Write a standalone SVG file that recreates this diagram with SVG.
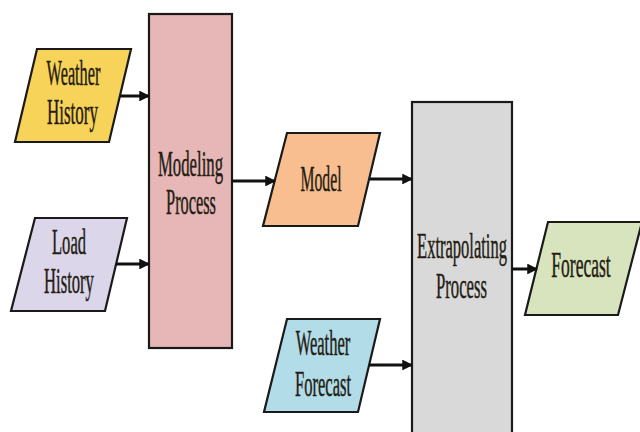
<svg xmlns="http://www.w3.org/2000/svg" width="640" height="432" viewBox="0 0 640 432">
<style>
.shape{stroke:#1a1a1a;stroke-width:2.2;stroke-linejoin:miter}
.lbl{font-family:"Liberation Serif","Times New Roman",serif;font-size:35px;fill:#241d14;stroke:#241d14;stroke-width:0.5;text-anchor:middle}
.conn{stroke:#111;stroke-width:3;fill:none}
</style>
<defs>
<marker id="ah" viewBox="0 0 10 10" refX="9" refY="5" markerWidth="3.6" markerHeight="3.6" orient="auto" markerUnits="strokeWidth">
<path d="M0,0 L10,5 L0,10 z" fill="#111"/>
</marker>
</defs>
<rect width="640" height="432" fill="#ffffff"/>
<g id="weather-history">
<polygon class="shape" points="37,49 131,49 109,142 15,142" fill="#F8D35A"/>
<text class="lbl" transform="translate(73.5,85) scale(0.465,1)">Weather</text>
<text class="lbl" transform="translate(72.5,124) scale(0.485,1)">History</text>
</g>
<g id="load-history">
<polygon class="shape" points="35,218 127,218 105,311 11,311" fill="#DCD6EA"/>
<text class="lbl" transform="translate(69,254) scale(0.475,1)">Load</text>
<text class="lbl" transform="translate(69,293) scale(0.475,1)">History</text>
</g>
<g id="modeling-process">
<rect class="shape" x="149" y="14" width="83" height="334" fill="#E6B7B6"/>
<text class="lbl" transform="translate(190.5,176) scale(0.478,1)">Modeling</text>
<text class="lbl" transform="translate(191,214) scale(0.467,1)">Process</text>
</g>
<g id="model">
<polygon class="shape" points="287,133 380,133 358,226 263,226" fill="#F8BE8F"/>
<text class="lbl" transform="translate(321,191) scale(0.45,1)">Model</text>
</g>
<g id="weather-forecast">
<polygon class="shape" points="287,319 380,319 358,412 264,412" fill="#B2DCE8"/>
<text class="lbl" transform="translate(323,355) scale(0.473,1)">Weather</text>
<text class="lbl" transform="translate(323,396) scale(0.472,1)">Forecast</text>
</g>
<g id="extrapolating-process">
<rect class="shape" x="412" y="102" width="100" height="345" fill="#D9D9D9"/>
<text class="lbl" transform="translate(462,258) scale(0.472,1)">Extrapolating</text>
<text class="lbl" transform="translate(461.5,298) scale(0.477,1)">Process</text>
</g>
<g id="forecast">
<polygon class="shape" points="548,222 642,222 618,315 525,315" fill="#D8E4BD"/>
<text class="lbl" transform="translate(581,277) scale(0.5,1)">Forecast</text>
</g>
<g id="connectors">
<line class="conn" x1="120" y1="96" x2="149" y2="96" marker-end="url(#ah)"/>
<line class="conn" x1="116" y1="264" x2="149" y2="264" marker-end="url(#ah)"/>
<line class="conn" x1="232" y1="181" x2="275" y2="181" marker-end="url(#ah)"/>
<line class="conn" x1="370" y1="179" x2="412" y2="179" marker-end="url(#ah)"/>
<line class="conn" x1="369" y1="365" x2="412" y2="365" marker-end="url(#ah)"/>
<line class="conn" x1="512" y1="269" x2="537" y2="269" marker-end="url(#ah)"/>
</g>
</svg>
